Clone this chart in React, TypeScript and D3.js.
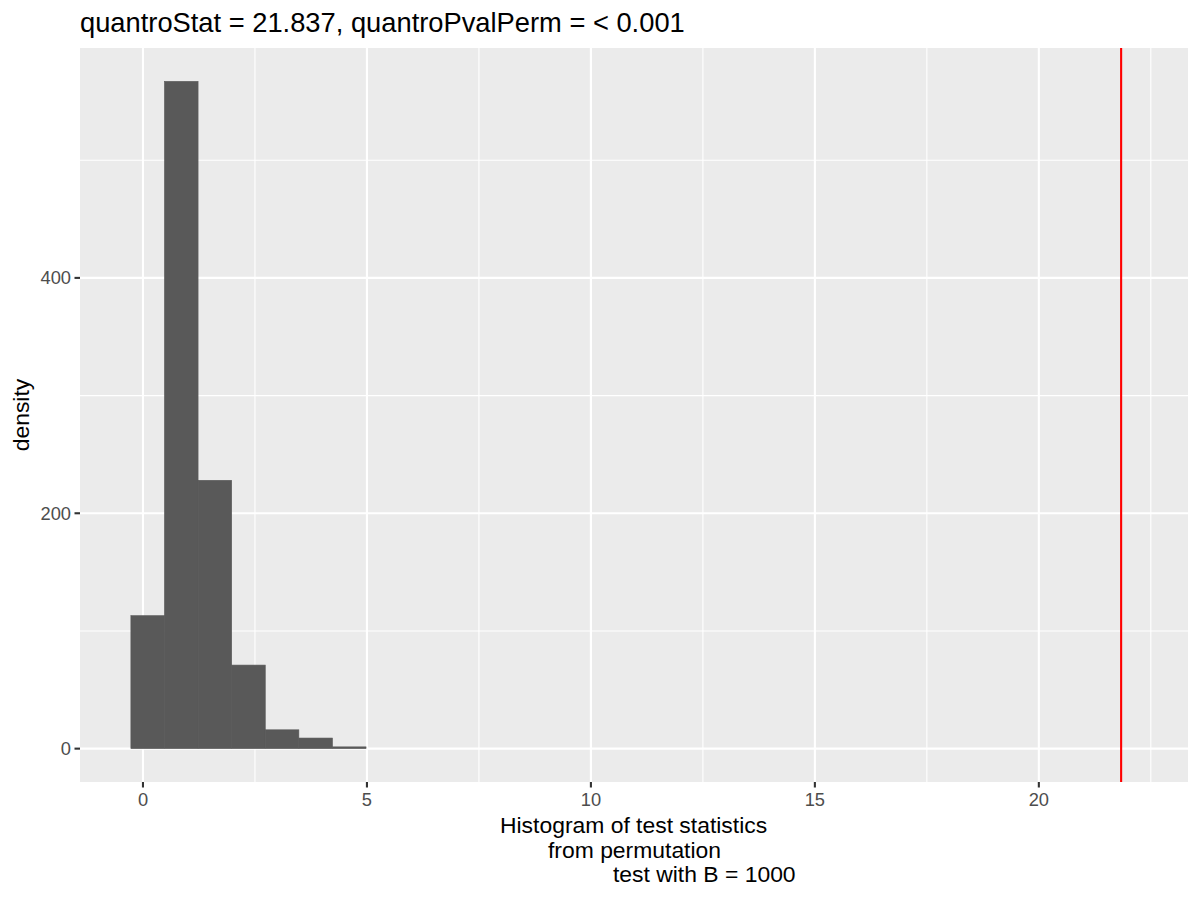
import * as React from 'react'
import * as d3 from 'd3'

const width = 1200
const height = 900
const margin = { top: 48, right: 12, bottom: 118, left: 80 }

const binStarts = [-0.27, 0.48, 1.23, 1.98, 2.73, 3.48, 4.23]
const binWidth = 0.75
const densities = [113, 567, 228, 71, 16, 9, 1.5]
const xTicks = [0, 5, 10, 15, 20]
const xMinor = [2.5, 7.5, 12.5, 17.5, 22.5]
const yTicks = [0, 200, 400]
const yMinor = [100, 300, 500]
const quantroStat = 21.837
const title = 'quantroStat = 21.837, quantroPvalPerm = < 0.001'
const xTitleLines = ['Histogram of test statistics', 'from permutation', 'test with B = 1000']
const xTitleOffsets = [-134, -86, -21]

const font = '"Liberation Sans", Arial, Helvetica, sans-serif'
const panelBg = '#EBEBEB'
const barFill = '#595959'

const App = () => {
  const xScale = d3
    .scaleLinear()
    .domain([-1.406, 23.33])
    .range([margin.left, width - margin.right])
  const yMax = d3.max(densities) as number
  const yScale = d3
    .scaleLinear()
    .domain([-0.05 * yMax, 1.05 * yMax])
    .range([height - margin.bottom, margin.top])

  const panelLeft = margin.left
  const panelRight = width - margin.right
  const panelTop = margin.top
  const panelBottom = height - margin.bottom
  const panelMid = (panelLeft + panelRight) / 2

  return (
    <svg width={width} height={height} style={{ position: 'absolute', left: 0, top: 0, background: '#fff' }}>
      <rect x={0} y={0} width={width} height={height} fill="#fff" />
      <rect
        x={panelLeft}
        y={panelTop}
        width={panelRight - panelLeft}
        height={panelBottom - panelTop}
        fill={panelBg}
      />
      {/* minor grid */}
      {xMinor.map(v => (
        <line key={'xm' + v} x1={xScale(v)} x2={xScale(v)} y1={panelTop} y2={panelBottom} stroke="#fff" strokeWidth={1.1} />
      ))}
      {yMinor.map(v => (
        <line key={'ym' + v} x1={panelLeft} x2={panelRight} y1={yScale(v)} y2={yScale(v)} stroke="#fff" strokeWidth={1.1} />
      ))}
      {/* major grid */}
      {xTicks.map(v => (
        <line key={'xg' + v} x1={xScale(v)} x2={xScale(v)} y1={panelTop} y2={panelBottom} stroke="#fff" strokeWidth={2.1} />
      ))}
      {yTicks.map(v => (
        <line key={'yg' + v} x1={panelLeft} x2={panelRight} y1={yScale(v)} y2={yScale(v)} stroke="#fff" strokeWidth={2.1} />
      ))}
      {/* bars */}
      {binStarts.map((b, i) => (
        <rect
          key={'bar' + i}
          x={xScale(b)}
          width={xScale(b + binWidth) - xScale(b)}
          y={yScale(densities[i])}
          height={yScale(0) - yScale(densities[i])}
          fill={barFill}
          stroke={barFill}
          strokeWidth={0.6}
        />
      ))}
      {/* quantroStat line */}
      <line x1={xScale(quantroStat)} x2={xScale(quantroStat)} y1={panelTop} y2={panelBottom} stroke="#FF0000" strokeWidth={2.1} />
      {/* x axis */}
      {xTicks.map(v => (
        <g key={'xt' + v}>
          <line x1={xScale(v)} x2={xScale(v)} y1={panelBottom} y2={panelBottom + 5.5} stroke="#333" strokeWidth={2.1} />
          <text x={xScale(v)} y={panelBottom + 24} textAnchor="middle" fontFamily={font} fontSize={18.3} fill="#4D4D4D">
            {v}
          </text>
        </g>
      ))}
      {/* y axis */}
      {yTicks.map(v => (
        <g key={'yt' + v}>
          <line x1={panelLeft - 5.5} x2={panelLeft} y1={yScale(v)} y2={yScale(v)} stroke="#333" strokeWidth={2.1} />
          <text x={panelLeft - 9} y={yScale(v) + 6.5} textAnchor="end" fontFamily={font} fontSize={18.3} fill="#4D4D4D">
            {v}
          </text>
        </g>
      ))}
      {/* titles */}
      <text x={panelLeft} y={32} fontFamily={font} fontSize={27.3} fill="#000">
        {title}
      </text>
      {xTitleLines.map((line, i) => (
        <text
          key={'xl' + i}
          x={panelMid + xTitleOffsets[i]}
          y={833 + i * 24.5}
          fontFamily={font}
          fontSize={22.9}
          fill="#000"
        >
          {line}
        </text>
      ))}
      <text
        transform={`translate(29, ${(panelTop + panelBottom) / 2}) rotate(-90)`}
        textAnchor="middle"
        fontFamily={font}
        fontSize={22.9}
        fill="#000"
      >
        density
      </text>
    </svg>
  )
}

export default App
